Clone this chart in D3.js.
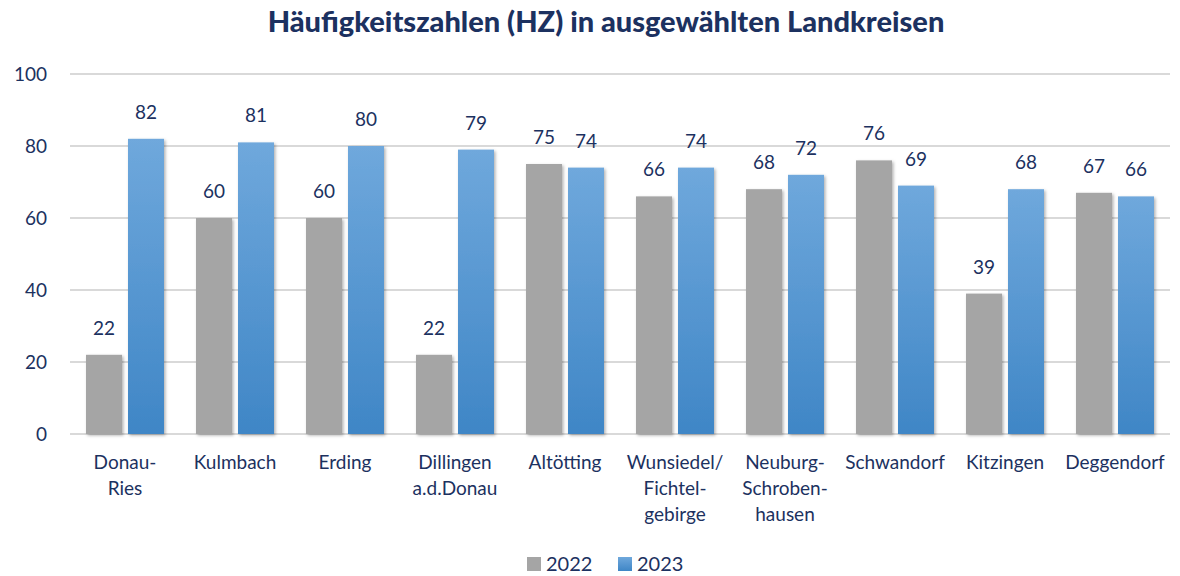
<!DOCTYPE html>
<html><head><meta charset="utf-8">
<script src="https://cdn.jsdelivr.net/npm/d3@7"></script>
<style>body{margin:0;background:#fff}svg{display:block}</style>
</head><body>
<svg id="c" width="1180" height="576"></svg>
<script>
const title = "Häufigkeitszahlen (HZ) in ausgewählten Landkreisen";
const categories = ["Donau-|Ries","Kulmbach","Erding","Dillingen|a.d.Donau","Altötting","Wunsiedel/|Fichtel-|gebirge","Neuburg-|Schroben-|hausen","Schwandorf","Kitzingen","Deggendorf"];
const series = ["2022","2023"];
const values2022 = [22,60,60,22,75,66,68,76,39,67];
const values2023 = [82,81,80,79,74,74,72,69,68,66];
const yTicks = [0,20,40,60,80,100];

const font = "Lato, 'Open Sans', sans-serif";
const navy = "#1c3160";
const svg = d3.select("#c");
const defs = svg.append("defs");
const g2 = defs.append("linearGradient").attr("id","blueGrad").attr("x1",0).attr("y1",0).attr("x2",0).attr("y2",1);
g2.append("stop").attr("offset","0%").attr("stop-color","#6fa8dc");
g2.append("stop").attr("offset","100%").attr("stop-color","#3f86c6");
const sh = defs.append("filter").attr("id","shadow").attr("x","-20%").attr("y","-5%").attr("width","150%").attr("height","115%");
sh.append("feDropShadow").attr("dx",1.5).attr("dy",1.5).attr("stdDeviation",1.5).attr("flood-color","#000").attr("flood-opacity",0.3);

const x = d3.scaleBand().domain(categories).range([70,1170]).paddingInner(0).paddingOuter(0);
const y = d3.scaleLinear().domain([0,100]).range([434,74]);

svg.append("text").attr("x",606).attr("y",32).attr("text-anchor","middle")
  .attr("font-family",font).attr("font-weight","900").attr("font-size",29).attr("fill",navy).text(title);

// gridlines
svg.append("g").selectAll("line").data(yTicks).join("line")
  .attr("x1",70).attr("x2",1170).attr("y1",d=>y(d)).attr("y2",d=>y(d))
  .attr("stroke","#d9d9d9").attr("stroke-width",2);
// y labels
svg.append("g").selectAll("text").data(yTicks).join("text")
  .attr("x",47).attr("y",d=>y(d)).attr("dy","0.35em").attr("text-anchor","end")
  .attr("font-family",font).attr("font-size",19).attr("fill",navy).text(d=>d);

const bw = 36, gap = 3;
const data = categories.map((c,i)=>({c, v1:values2022[i], v2:values2023[i]}));
const cx = d=>x(d.c)+x.bandwidth()/2;

svg.append("g").selectAll("rect").data(data).join("rect")
  .attr("x",d=>cx(d)-gap-bw).attr("width",bw).attr("y",d=>y(d.v1)).attr("height",d=>y(0)-y(d.v1))
  .attr("fill","#a5a5a5").attr("filter","url(#shadow)");
svg.append("g").selectAll("rect").data(data).join("rect")
  .attr("x",d=>cx(d)+gap).attr("width",bw).attr("y",d=>y(d.v2)).attr("height",d=>y(0)-y(d.v2))
  .attr("fill","url(#blueGrad)").attr("filter","url(#shadow)");

const lbl = (sel)=>sel.attr("text-anchor","middle").attr("font-family",font).attr("font-size",19).attr("fill",navy);
svg.append("g").selectAll("text").data(data).join("text")
  .attr("x",d=>cx(d)-gap-bw/2).attr("y",d=>y(d.v1)-20).call(lbl).text(d=>d.v1);
svg.append("g").selectAll("text").data(data).join("text")
  .attr("x",d=>cx(d)+gap+bw/2).attr("y",d=>y(d.v2)-20).call(lbl).text(d=>d.v2);

// category labels
const cl = svg.append("g").selectAll("text").data(data).join("text")
  .attr("text-anchor","middle").attr("font-family",font).attr("font-size",19).attr("fill",navy);
cl.each(function(d){
  const t = d3.select(this);
  d.c.split("|").forEach((s,k)=>{
    t.append("tspan").attr("x",cx(d)).attr("y",469+k*26).text(s);
  });
});

// legend
const leg = [{s:series[0],f:"#a5a5a5",x:527},{s:series[1],f:"url(#blueGrad)",x:618}];
const lg = svg.append("g").selectAll("g").data(leg).join("g");
lg.append("rect").attr("x",d=>d.x).attr("y",557).attr("width",14).attr("height",14).attr("fill",d=>d.f);
lg.append("text").attr("x",d=>d.x+19).attr("y",571).attr("font-family",font).attr("font-size",20).attr("fill",navy).text(d=>d.s);
</script>
</body></html>
